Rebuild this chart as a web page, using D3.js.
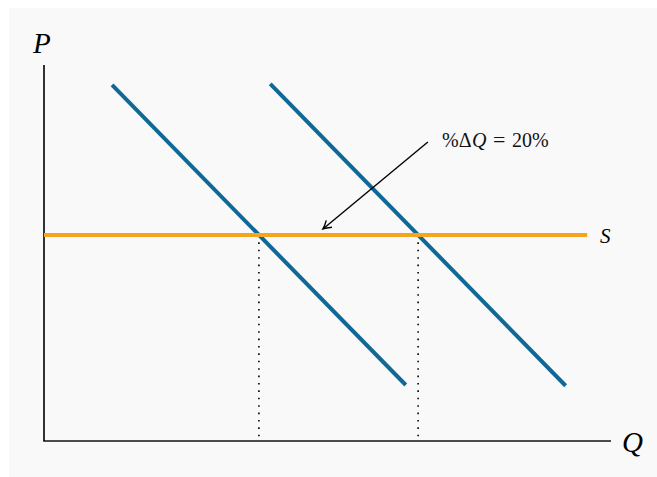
<!DOCTYPE html>
<html>
<head>
<meta charset="utf-8">
<script src="https://cdn.jsdelivr.net/npm/d3@7"></script>
<style>
html,body{margin:0;padding:0;background:#ffffff;}
svg{display:block;}
text{font-family:"Liberation Serif","Times New Roman",serif;}
</style>
</head>
<body>
<svg id="chart" width="657" height="477"></svg>
<script>
// ---- data (axis units 0..10) ----
const demandNames = ["D1", "D2"];
const demandStartQ = [1.20, 3.99];
const demandEndQ   = [6.38, 9.20];
const demandStartP = [9.47, 9.50];
const demandEndP   = [1.49, 1.47];
const supplyP = 5.48;
const supplyQRange = [0, 9.58];
const axisLabels = ["P", "Q"];
const supplyLabel = "S";
const annotationParts = ["%Δ", "Q", "=", "20%"];
const arrowFrom = [6.77, 7.95];
const arrowTo = [4.92, 5.64];

const svg = d3.select("#chart");
const W = 657, H = 477;

svg.append("rect").attr("x", 9).attr("y", 8).attr("width", W - 9).attr("height", H - 8).attr("fill", "#f9f9f9");

const x = d3.scaleLinear().domain([0, 10]).range([44, 611]);
const y = d3.scaleLinear().domain([0, 10]).range([441, 65]);

const blue = "#0f6896", orange = "#f5a41e";

// axes
svg.append("line").attr("x1", x(0)).attr("x2", x(0)).attr("y1", y(10)).attr("y2", y(0))
  .attr("stroke", "#000").attr("stroke-width", 1.6);
svg.append("line").attr("x1", x(0) - 0.8).attr("x2", x(10)).attr("y1", y(0)).attr("y2", y(0))
  .attr("stroke", "#111").attr("stroke-width", 1.6);

// demand curves
const demands = demandNames.map((n, i) => ({
  name: n, q0: demandStartQ[i], p0: demandStartP[i], q1: demandEndQ[i], p1: demandEndP[i]
}));
const eqQ = demands.map(d => d.q0 + (supplyP - d.p0) * (d.q1 - d.q0) / (d.p1 - d.p0));

// dotted drop lines
svg.selectAll("line.drop").data(eqQ).enter().append("line").attr("class", "drop")
  .attr("x1", d => x(d)).attr("x2", d => x(d))
  .attr("y1", y(supplyP)).attr("y2", y(0) - 2)
  .attr("stroke", "#000").attr("stroke-width", 1.6).attr("stroke-dasharray", "1.6,5.8");

svg.selectAll("line.demand").data(demands).enter().append("line").attr("class", "demand")
  .attr("x1", d => x(d.q0)).attr("y1", d => y(d.p0))
  .attr("x2", d => x(d.q1)).attr("y2", d => y(d.p1))
  .attr("stroke", blue).attr("stroke-width", 4);

// supply
svg.append("line").attr("x1", x(supplyQRange[0])).attr("x2", x(supplyQRange[1]))
  .attr("y1", y(supplyP)).attr("y2", y(supplyP))
  .attr("stroke", orange).attr("stroke-width", 4);

// arrow
svg.append("defs").append("marker").attr("id", "arr")
  .attr("viewBox", "-10 -6 12 12").attr("refX", 0).attr("refY", 0)
  .attr("markerWidth", 12).attr("markerHeight", 12).attr("markerUnits", "userSpaceOnUse")
  .attr("orient", "auto")
  .append("path").attr("d", "M-8,-4.5 Q-3,-1 0,0 Q-3,1 -8,4.5")
  .attr("fill", "none").attr("stroke", "#000").attr("stroke-width", 1.4);
svg.append("line").attr("x1", x(arrowFrom[0])).attr("y1", y(arrowFrom[1]))
  .attr("x2", x(arrowTo[0])).attr("y2", y(arrowTo[1]))
  .attr("stroke", "#000").attr("stroke-width", 1.4).attr("marker-end", "url(#arr)");

// annotation
const ann = svg.append("text").attr("x", 442).attr("y", 147).attr("font-size", 20).attr("fill", "#111");
ann.append("tspan").text(annotationParts[0]);
ann.append("tspan").attr("font-style", "italic").attr("dx", 0.5).text(annotationParts[1]);
ann.append("tspan").attr("dx", 6.5).attr("font-size", 22).text(annotationParts[2]);
ann.append("tspan").attr("dx", 6.5).text(annotationParts[3]);

// labels
svg.append("text").attr("x", 33).attr("y", 53).attr("font-size", 29).attr("font-style", "italic").text(axisLabels[0]);
svg.append("text").attr("x", 622).attr("y", 452).attr("font-size", 29).attr("font-style", "italic").text(axisLabels[1]);
svg.append("text").attr("x", 600).attr("y", 243).attr("font-size", 21).attr("font-style", "italic").text(supplyLabel);
</script>
</body>
</html>
